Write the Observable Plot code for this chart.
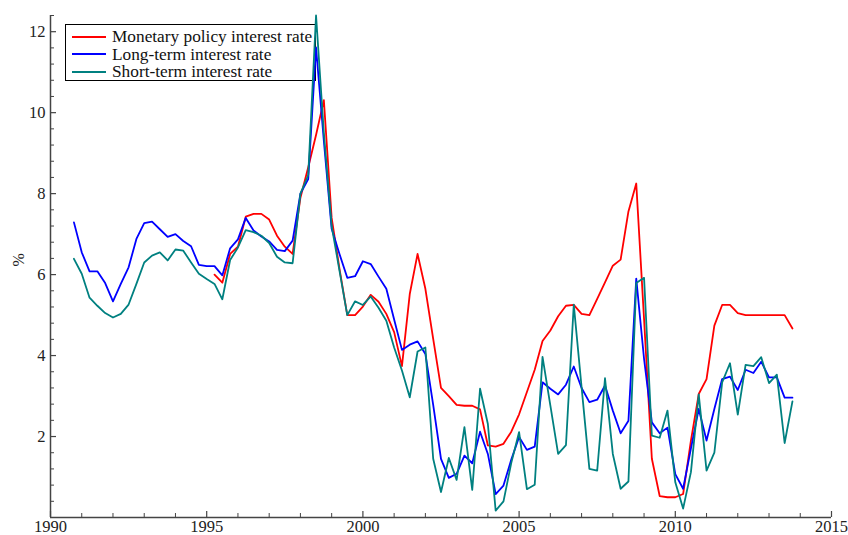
<!DOCTYPE html>
<html>
<head>
<meta charset="utf-8">
<script src="https://cdn.jsdelivr.net/npm/d3@7"></script>
<script src="https://cdn.jsdelivr.net/npm/@observablehq/plot@0.6"></script>
<style>
  html, body { margin: 0; padding: 0; background: #fff; }
  #wrap { position: relative; width: 848px; height: 535px; overflow: hidden; }
  #wrap svg { position: absolute; left: 0; top: 0; z-index: 1; }
  #legend { position: absolute; left: 65px; top: 24px; width: 251px; height: 57px; box-sizing: border-box;
            border: 1px solid #000; padding-top: 3px; z-index: 0;
            font-family: "Liberation Serif", "Times New Roman", serif; font-size: 17.3px; color: #111; }
  #legend .row { height: 17.5px; line-height: 17.5px; white-space: nowrap; display: flex; align-items: center; }
  #legend svg { position: static; margin-left: 6px; margin-right: 6px; flex: none; }
</style>
</head>
<body>
<div id="wrap"><div id="legend"></div></div>
<script>
// ---- data (quarterly) ----
const longStart = 1990.75;   // first quarter of long/short series
const policyStart = 1995.25; // first quarter of policy series

const seriesNames = ["Monetary policy interest rate", "Long-term interest rate", "Short-term interest rate"];
const seriesColors = ["#ff0000", "#0000ff", "#008080"];

const longTerm = [
  7.29,
  6.55, 6.08, 6.08, 5.79,
  5.34, 5.77, 6.18, 6.88,
  7.27, 7.31, 7.12, 6.93,
  7.00, 6.83, 6.70, 6.24,
  6.21, 6.21, 5.98, 6.65,
  6.87, 7.40, 7.09, 6.94,
  6.82, 6.61, 6.58, 6.84,
  8.00, 8.36, 11.61, 9.30,
  7.13, 6.51, 5.92, 5.96,
  6.33, 6.26, 5.95, 5.65,
  4.89, 4.14, 4.27, 4.35,
  4.04, 2.78, 1.45, 0.98,
  1.08, 1.53, 1.34, 2.12,
  1.57, 0.58, 0.79, 1.43,
  1.99, 1.67, 1.75, 3.34,
  3.18, 3.04, 3.28, 3.73,
  3.20, 2.85, 2.91, 3.26,
  2.64, 2.08, 2.39, 5.90,
  3.92, 2.35, 2.08, 2.22,
  1.07, 0.71, 1.70, 2.68,
  1.90, 2.68, 3.42, 3.48,
  3.15, 3.65, 3.57, 3.85,
  3.46, 3.46, 2.96, 2.96
];

const shortTerm = [
  6.39,
  6.02, 5.43, 5.23, 5.05,
  4.94, 5.03, 5.26, 5.77,
  6.30, 6.47, 6.55, 6.35,
  6.62, 6.59, 6.30, 6.02,
  5.89, 5.77, 5.39, 6.36,
  6.67, 7.10, 7.05, 6.96,
  6.78, 6.44, 6.30, 6.28,
  8.00, 8.46, 12.40, 9.50,
  7.20, 6.10, 5.00, 5.34,
  5.25, 5.46, 5.18, 4.86,
  4.20, 3.63, 2.97, 4.10,
  4.20, 1.45, 0.63, 1.47,
  0.93, 2.23, 0.68, 3.18,
  2.31, 0.17, 0.40, 1.35,
  2.11, 0.70, 0.81, 3.97,
  2.77, 1.57, 1.79, 5.26,
  3.22, 1.20, 1.16, 3.44,
  1.57, 0.71, 0.89, 5.79,
  5.92, 2.02, 1.97, 2.64,
  0.87, 0.22, 1.12, 3.04,
  1.16, 1.60, 3.34, 3.81,
  2.54, 3.77, 3.74, 3.96,
  3.32, 3.53, 1.84, 2.87
];

const policyRate = [
  6.00, 5.80, 6.51,
  6.69, 7.43, 7.50, 7.50,
  7.36, 6.96, 6.69, 6.51,
  7.90, 8.65, 9.45, 10.31,
  7.40, 6.15, 5.00, 5.00,
  5.21, 5.50, 5.33, 5.03,
  4.58, 3.74, 5.52, 6.51,
  5.65, 4.41, 3.20, 3.00,
  2.78, 2.76, 2.76, 2.67,
  1.78, 1.75, 1.82, 2.12,
  2.55, 3.10, 3.65, 4.36,
  4.62, 4.97, 5.23, 5.25,
  5.03, 5.00, 5.40, 5.81,
  6.22, 6.37, 7.56, 8.25,
  4.90, 1.45, 0.53, 0.50,
  0.50, 0.58, 1.90, 3.05,
  3.42, 4.74, 5.25, 5.25,
  5.05, 5.00, 5.00, 5.00,
  5.00, 5.00, 5.00, 4.67
];

const xMajorTicks = [1990, 1995, 2000, 2005, 2010, 2015];
const xMinorTicks = [1991,1992,1993,1994,1996,1997,1998,1999,2001,2002,2003,2004,2006,2007,2008,2009,2011,2012,2013,2014];
const yMajorTicks = [2, 4, 6, 8, 10, 12];
const yMinorTicks = [0.4,0.8,1.2,1.6,2.4,2.8,3.2,3.6,4.4,4.8,5.2,5.6,6.4,6.8,7.2,7.6,8.4,8.8,9.2,9.6,10.4,10.8,11.2,11.6,12.4];
const yLabel = "%";

// ---- build tables ----
const toRows = (arr, start) => arr.map((v, i) => ({t: start + i * 0.25, v}));
const policyRows = toRows(policyRate, policyStart);
const longRows = toRows(longTerm, longStart);
const shortRows = toRows(shortTerm, longStart);

const W = 848, H = 535, mL = 50, mR = 17, mT = 15, mB = 18;
const plotW = W - mL - mR, plotH = H - mT - mB;
const axisColor = "#444";

const chart = Plot.plot({
  width: W, height: H,
  marginLeft: mL, marginRight: mR, marginTop: mT, marginBottom: mB,
  style: {fontFamily: '"Liberation Serif", "Times New Roman", serif', fontSize: "16.5px", color: "#222", background: "transparent", overflow: "visible"},
  x: {domain: [1990, 2015], axis: null},
  y: {domain: [0, 12.4], axis: null},
  marks: [
    Plot.lineY(policyRows, {x: "t", y: "v", stroke: seriesColors[0], strokeWidth: 1.8}),
    Plot.lineY(longRows, {x: "t", y: "v", stroke: seriesColors[1], strokeWidth: 1.8}),
    Plot.lineY(shortRows, {x: "t", y: "v", stroke: seriesColors[2], strokeWidth: 1.8}),
    Plot.ruleX([1990], {stroke: axisColor, strokeWidth: 1.5}),
    Plot.ruleY([0], {stroke: axisColor, strokeWidth: 1.5}),
    Plot.tickY(yMajorTicks, {y: d => d, insetRight: plotW - 6, stroke: axisColor, strokeWidth: 1.2}),
    Plot.tickY(yMinorTicks, {y: d => d, insetRight: plotW - 4, stroke: axisColor, strokeWidth: 1}),
    Plot.tickX(xMajorTicks, {x: d => d, insetTop: plotH - 6, stroke: axisColor, strokeWidth: 1.2}),
    Plot.tickX(xMinorTicks, {x: d => d, insetTop: plotH - 4, stroke: axisColor, strokeWidth: 1}),
    Plot.axisY({ticks: yMajorTicks, tickSize: 0, tickPadding: 5, tickFormat: "d", label: null, fill: "#222"}),
    Plot.axisX({ticks: xMajorTicks, tickSize: 0, tickPadding: 3, tickFormat: "d", label: null, fill: "#222"}),
    Plot.text([yLabel], {frameAnchor: "left", dx: -32, rotate: -90, fontSize: 16, fill: "#222"})
  ]
});
document.getElementById("wrap").appendChild(chart);

// ---- legend ----
const legend = d3.select("#legend");
seriesNames.forEach((name, i) => {
  const row = legend.append("div").attr("class", "row");
  const sw = row.append("svg").attr("width", 34).attr("height", 10);
  sw.append("line").attr("x1", 0).attr("x2", 34).attr("y1", 5).attr("y2", 5)
    .attr("stroke", seriesColors[i]).attr("stroke-width", 2);
  row.append("span").text(name);
});
</script>
</body>
</html>
